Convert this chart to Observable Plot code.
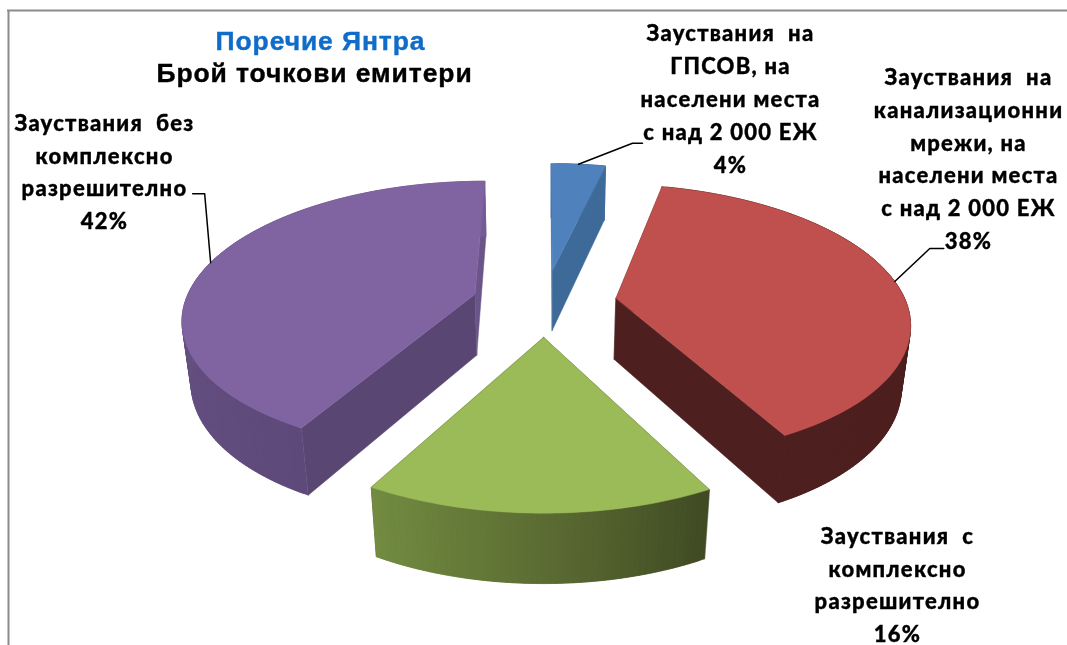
<!DOCTYPE html>
<html><head><meta charset="utf-8">
<script src="https://cdn.jsdelivr.net/npm/d3@7"></script>
<script src="https://cdn.jsdelivr.net/npm/@observablehq/plot@0.6"></script>
<style>
html,body{margin:0;padding:0;background:#fff;overflow:hidden}
svg{display:block;filter:blur(.35px)}
g[font-family="Lato"]{letter-spacing:1.25px}
g[font-family="Liberation Sans"]{letter-spacing:.9px}
</style>
</head><body><div id="chart"></div>
<script>
const categories = ["ГПСОВ","Канализационни мрежи","С комплексно","Без комплексно"];
const shares = [3.6, 38.7, 15.75, 41.95];
const topColors = ["#4f81bd","#c0504d","#9bbb59","#8064a2"];
const startWallColors = ["#3e6a99","#4d1f1e","#3f4a23","#5a4672"];
const endWallColors = ["#3e6a99","#4d1f1e","#3f4a23","#6b5488"];
const rimStops = [["#3e6a99","#3e6a99"],["#4d1f1e","#4d1f1e"],["#3f4a23","#5c6d33","#728c41"],["#5e4a7a","#675285","#735c94"]];
const labelTexts = [
  "Зауствания \u00a0на\nГПСОВ, на\nнаселени места\nс над 2 000 ЕЖ\n4%",
  "Зауствания \u00a0на\nканализационни\nмрежи, на\nнаселени места\nс над 2 000 ЕЖ\n38%",
  "Зауствания \u00a0с\nкомплексно\nразрешително\n16%",
  "Зауствания \u00a0без\nкомплексно\nразрешително\n42%"
];
const titleLines = ["Поречие Янтра","Брой точкови емитери"];

// view geometry of the exploded perspective pie
const view = {cx:544, cy:302, R:290, Ry:134, k:0.164, e:0.25, depth:63, far:0.025};
const project = (X,V,Z) => {
  const s = 1/(1 - view.k*V + view.far*Z);
  return [view.cx + view.R*X*s, view.cy + view.Ry*V*s + view.depth*Z*s];
};
const arcs = d3.pie().sort(null).value(d=>d)(shares);
const polys = [];
let pid = 0;
const addPoly = (layer, pts, color) => { const id = pid++; pts.forEach(p=>polys.push({id, layer, x:p[0], y:p[1], color})); };
const pointOn = (a, m, r, Z) => {
  const ox = view.e*Math.sin(m), ov = -view.e*Math.cos(m);
  return project(ox + r*Math.sin(a), ov - r*Math.cos(a), Z);
};
const anchors = [];
arcs.forEach((arc,i)=>{
  const m = (arc.startAngle+arc.endAngle)/2;
  const n = Math.ceil((arc.endAngle-arc.startAngle)/(Math.PI/180));
  const step = (arc.endAngle-arc.startAngle)/n;
  const angles = d3.range(n+1).map(j=>arc.startAngle+step*j);
  // radial walls
  addPoly(0,[pointOn(arc.startAngle,m,0,0),pointOn(arc.startAngle,m,1,0),pointOn(arc.startAngle,m,1,1),pointOn(arc.startAngle,m,0,1)],startWallColors[i]);
  addPoly(0,[pointOn(arc.endAngle,m,0,0),pointOn(arc.endAngle,m,1,0),pointOn(arc.endAngle,m,1,1),pointOn(arc.endAngle,m,0,1)],endWallColors[i]);
  // outer rim, shaded along its length; each piece overlaps the next to hide seams
  const shade = d3.scaleLinear().domain(rimStops[i].map((_,j)=>j/(rimStops[i].length-1))).range(rimStops[i]).interpolate(d3.interpolateRgb);
  for(let j=0;j<n;j++){
    const a0 = angles[j], a1 = Math.min(angles[j]+step*2, arc.endAngle);
    addPoly(1,[pointOn(a0,m,1,0),pointOn(a1,m,1,0),pointOn(a1,m,1,1),pointOn(a0,m,1,1)],shade((j+.5)/n));
  }
  // top face
  addPoly(2,[pointOn(0,m,0,0),...angles.map(a=>pointOn(a,m,1,0))],topColors[i]);
  anchors.push(pointOn(m,m,1,0));
});
polys.sort((a,b)=>a.layer-b.layer);

// label layout
const labelPos = [[730,96],[968,156],[897,582],[104,169]];
const labels = labelTexts.map((t,i)=>({t,x:labelPos[i][0],y:labelPos[i][1]}));
// leader lines leave the rim at the slice's middle angle
const leaderData = [];
[[0,[[54,-21],[64,-21]]],[1,[[35,-33],[49,-33]]],[3,[[-6,-69],[-18,-69]]]].forEach(([i,b])=>{
  const [ax,ay]=anchors[i];
  [[0,0],...b].forEach(d=>leaderData.push({id:i,x:ax+d[0],y:ay+d[1]}));
});

const titleData = [
  {t:titleLines[0],x:320,y:41,c:"#0f6cc8"},
  {t:titleLines[1],x:314,y:73,c:"#000"}
];

const plot = Plot.plot({
  width:1067,height:645,margin:0,
  x:{domain:[0,1067],range:[0,1067],axis:null},
  y:{domain:[0,645],range:[0,645],axis:null},
  marks:[
    Plot.ruleY([10],{x1:7,x2:1067,stroke:"#8c8c8c",strokeWidth:2}),
    Plot.ruleX([8],{y1:10,y2:645,stroke:"#8c8c8c",strokeWidth:2}),
    Plot.line(polys,{x:"x",y:"y",z:"id",fill:"color",stroke:"color",strokeWidth:0.5,curve:"linear-closed"}),
    Plot.line(leaderData,{x:"x",y:"y",z:"id",stroke:"#000",strokeWidth:1.5}),
    Plot.text(labels,{x:"x",y:"y",text:"t",fontFamily:"Lato",fontWeight:900,fontSize:22,lineHeight:1.49,fill:"#000",stroke:"#000",strokeWidth:0.35,textAnchor:"middle"}),
    Plot.text(titleData,{x:"x",y:"y",text:"t",fontFamily:"Liberation Sans",fontWeight:700,fontSize:26.5,fill:"c",stroke:"c",strokeWidth:0.4,textAnchor:"middle"})
  ]
});
document.getElementById("chart").append(plot);
</script></body></html>
